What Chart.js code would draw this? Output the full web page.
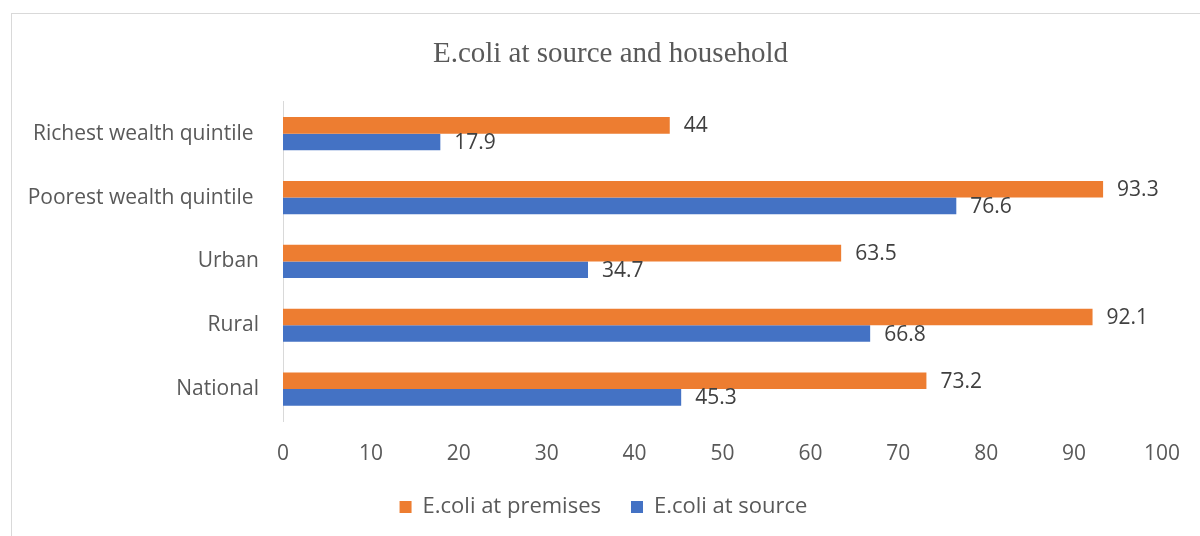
<!DOCTYPE html>
<html>
<head>
<meta charset="utf-8">
<script src="https://cdn.jsdelivr.net/npm/chart.js@4"></script>
<style>
  html, body { margin: 0; padding: 0; background: #ffffff; }
  #frame { position: absolute; left: 11px; top: 13px; width: 1200px; height: 600px; border: 1px solid #d9d9d9; }
  #wrap { position: absolute; left: 0; top: 0; width: 1200px; height: 536px; }
</style>
</head>
<body>
<div id="frame"></div>
<div id="wrap"><canvas id="ecoliChart"></canvas></div>
<script>
// categorias e valores
const categories = ['Richest wealth quintile ', 'Poorest wealth quintile ', 'Urban', 'Rural', 'National'];
const premisesValues = [44, 93.3, 63.5, 92.1, 73.2];
const sourceValues = [17.9, 76.6, 34.7, 66.8, 45.3];
const xTicks = [0, 10, 20, 30, 40, 50, 60, 70, 80, 90, 100];

const sansFont = "'Open Sans', 'Noto Sans', sans-serif";

// rótulos de valor à direita de cada barra
const valueLabels = {
    id: 'valueLabels',
    afterDatasetsDraw(chart) {
        const ctx = chart.ctx;
        ctx.save();
        ctx.font = '21px ' + sansFont;
        ctx.fillStyle = '#404040';
        ctx.textAlign = 'left';
        ctx.textBaseline = 'middle';
        chart.data.datasets.forEach(function(ds, i) {
            chart.getDatasetMeta(i).data.forEach(function(bar, j) {
                ctx.fillText(String(ds.data[j]), bar.x + 14, bar.y + 1);
            });
        });
        ctx.restore();
    }
};

// desloca título e legenda um pouco para a direita, como no original
const shiftBoxes = {
    id: 'shiftBoxes',
    afterLayout(chart) {
        if (chart.titleBlock) { chart.titleBlock.left += 27; chart.titleBlock.right += 27; }
        if (chart.legend) { chart.legend.left += 20; chart.legend.right += 20; }
    }
};

new Chart(document.getElementById('ecoliChart').getContext('2d'), {
    type: 'bar',
    data: {
        labels: categories,
        datasets: [{
            label: 'E.coli at premises',
            data: premisesValues,
            backgroundColor: '#ED7D31',
            borderWidth: 0,
            categoryPercentage: 0.52,
            barPercentage: 1.0
        },
        {
            label: 'E.coli at source',
            data: sourceValues,
            backgroundColor: '#4472C4',
            borderWidth: 0,
            categoryPercentage: 0.52,
            barPercentage: 1.0
        }]
    },
    options: {
        indexAxis: 'y',
        responsive: true,
        maintainAspectRatio: false,
        animation: false,
        layout: { padding: { top: 0, left: 0, right: 33, bottom: 8 } },
        scales: {
            x: {
                min: 0,
                max: 100,
                afterBuildTicks: function(scale) {
                    scale.ticks = xTicks.map(function(v) { return { value: v }; });
                },
                afterFit: function(scale) { scale.height = 45; },
                grid: { display: false, drawTicks: false },
                border: { display: false },
                ticks: {
                    padding: 20,
                    color: '#595959',
                    font: { family: sansFont, size: 21 }
                }
            },
            y: {
                afterFit: function(scale) { scale.width = 283; },
                grid: { display: false, drawTicks: false },
                border: { display: true, color: '#d9d9d9', width: 1 },
                ticks: {
                    padding: 24,
                    color: '#595959',
                    font: { family: sansFont, size: 21 }
                }
            }
        },
        plugins: {
            title: {
                display: true,
                text: 'E.coli at source and household',
                color: '#595959',
                font: { family: "'Liberation Serif', serif", size: 29, weight: 'normal' },
                padding: { top: 37, bottom: 30 }
            },
            legend: {
                position: 'bottom',
                labels: {
                    boxWidth: 12,
                    boxHeight: 12,
                    padding: 30,
                    color: '#595959',
                    font: { family: sansFont, size: 22 }
                }
            },
            tooltip: { enabled: false }
        }
    },
    plugins: [valueLabels, shiftBoxes]
});
</script>
</body>
</html>
